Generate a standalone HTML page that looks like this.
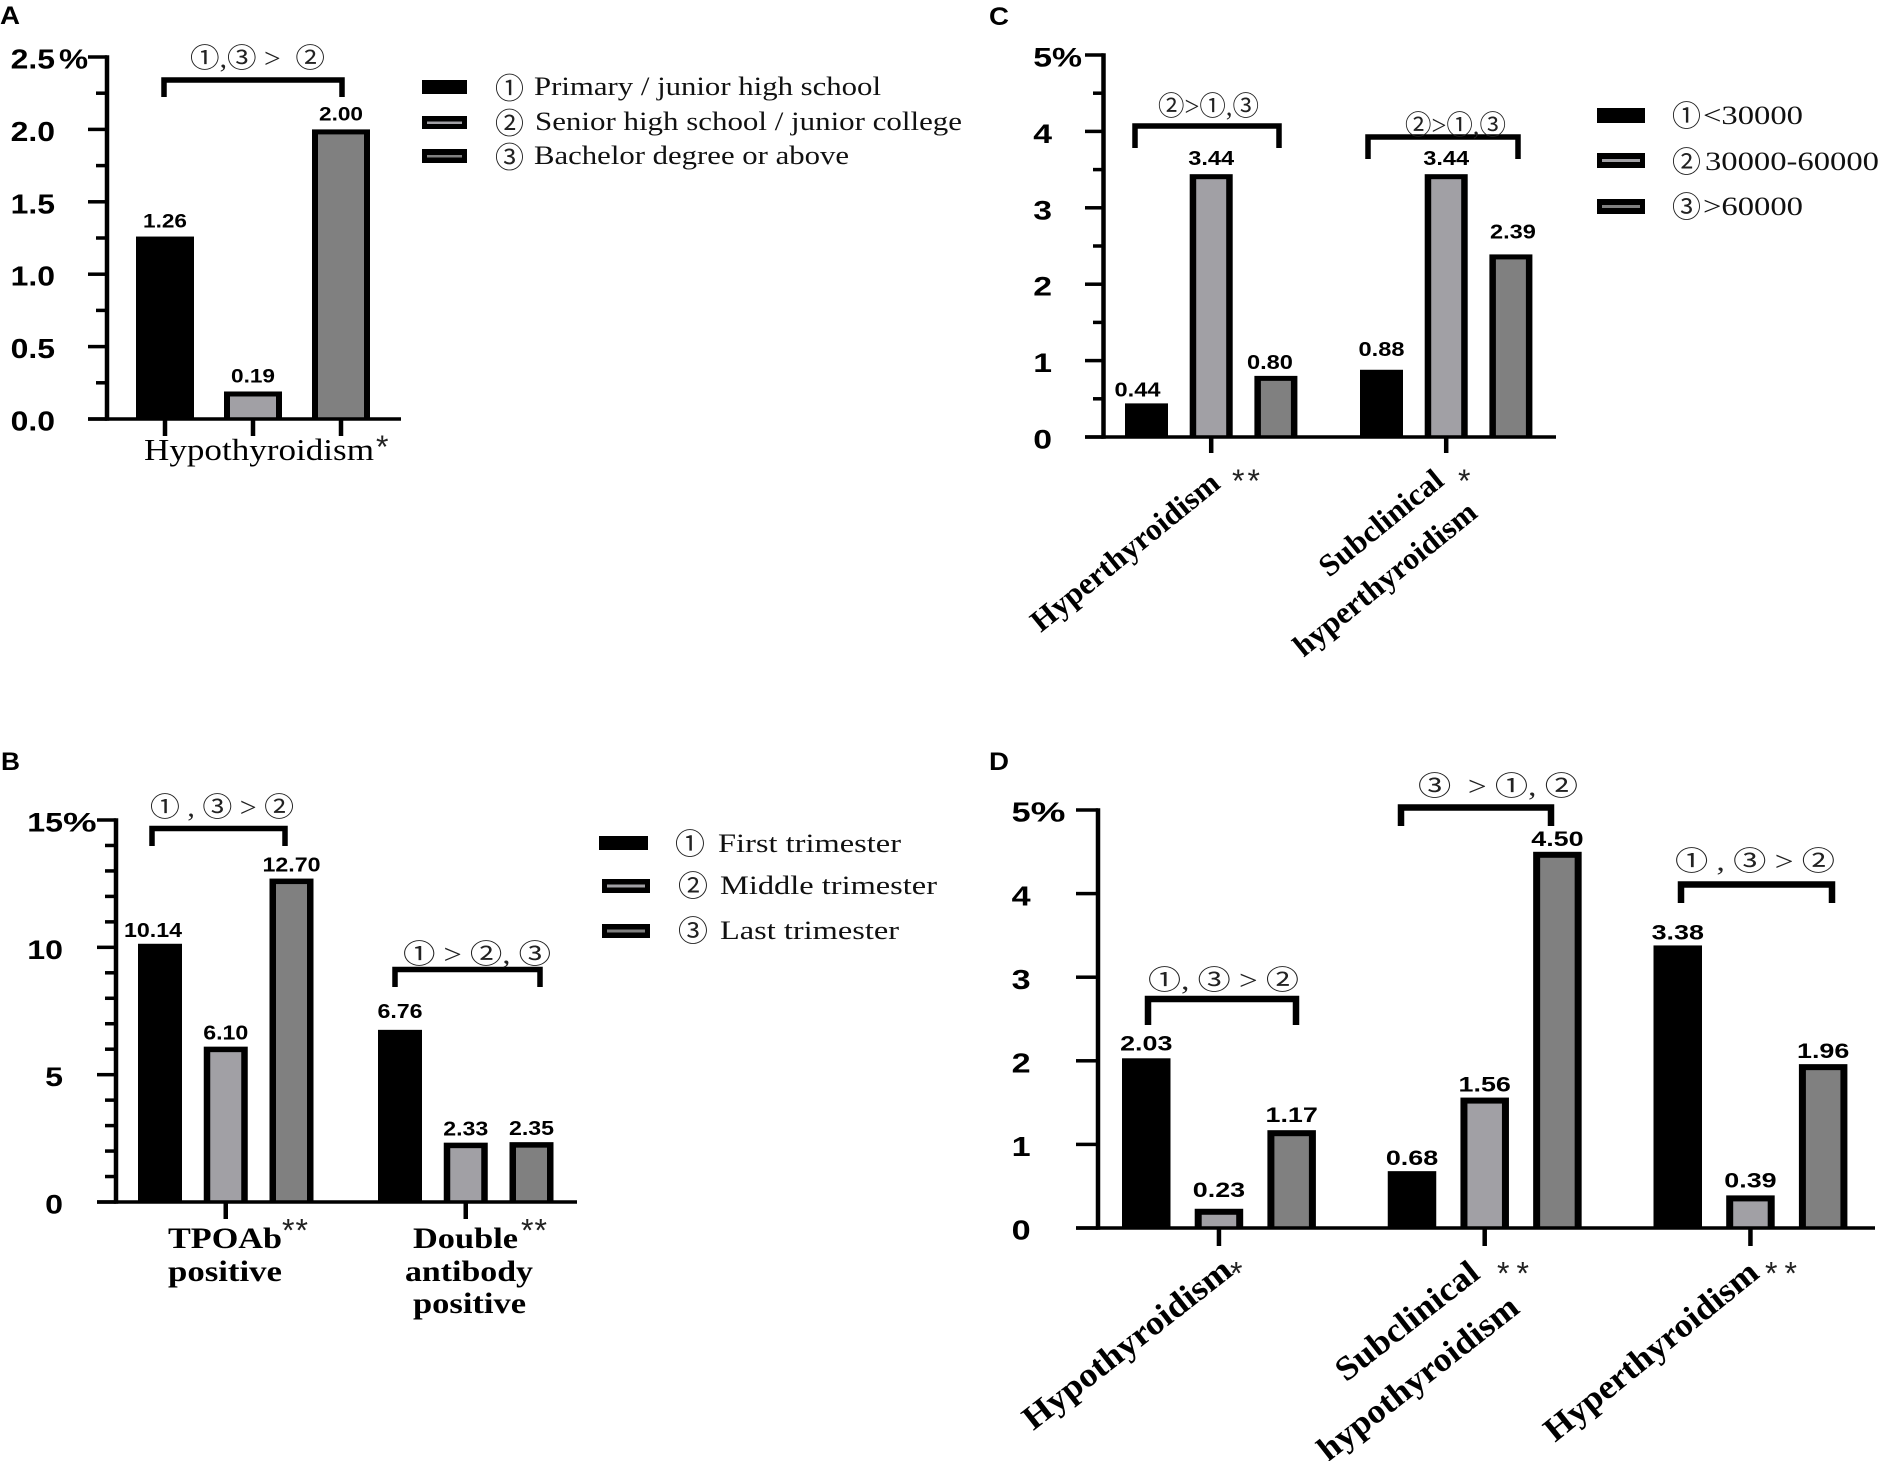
<!DOCTYPE html>
<html lang="en">
<head>
<meta charset="utf-8">
<title>Thyroid disease prevalence by group</title>
<style>
html,body{margin:0;padding:0;background:#fff}
svg{display:block}
text{fill:#000;white-space:pre}
.ser{font-family:"Liberation Serif","Noto Serif CJK SC",serif}
.serb{font-family:"Liberation Serif","Noto Serif CJK SC",serif;font-weight:bold}
.cir{font-family:"Liberation Serif","Noto Sans CJK JP",sans-serif;font-size:27px;fill:#222}
.mrk{font-family:"Liberation Serif","Noto Sans CJK JP",sans-serif;font-size:29px;fill:#222}
.san{font-family:"Liberation Sans",sans-serif;font-weight:bold}
.leg{font-family:"Liberation Serif",serif;font-size:26px;fill:#111}
.ast{font-family:"Liberation Sans",sans-serif;font-size:32px;fill:#222}
.brk{fill:none;stroke:#000;stroke-width:5.5}
.brkd{fill:none;stroke:#000;stroke-width:6.5}
</style>
</head>
<body>
<svg id="figure" xmlns="http://www.w3.org/2000/svg" width="1881" height="1461" viewBox="0 0 1881 1461">
<rect width="1881" height="1461" fill="#fff"/>

<!-- Panel letters -->
<text class="san" x="0" y="24" font-size="25" textLength="20" lengthAdjust="spacingAndGlyphs">A</text>
<text class="san" x="989" y="25" font-size="25" textLength="20" lengthAdjust="spacingAndGlyphs">C</text>
<text class="san" x="1" y="770" font-size="25" textLength="19" lengthAdjust="spacingAndGlyphs">B</text>
<text class="san" x="989" y="770" font-size="25" textLength="20" lengthAdjust="spacingAndGlyphs">D</text>

<!-- Panel A static -->
<g>
<path class="brk" d="M164 97V80H342V97"/>
<text class="cir" x="190" y="67.5" textLength="135" lengthAdjust="spacingAndGlyphs">①,③ &gt;  ②</text>
<text class="ser" x="144" y="460" font-size="31" textLength="230" lengthAdjust="spacingAndGlyphs">Hypothyroidism</text>
<text class="ast" x="376" y="458">*</text>
</g>
<g>
<rect x="422" y="80" width="45" height="14" fill="#000"/>
<rect x="422" y="116" width="45" height="13" fill="#000"/>
<rect x="427" y="121.5" width="35" height="2.5" fill="#a1a0a5"/>
<rect x="422" y="149" width="45" height="14" fill="#000"/>
<rect x="427" y="155" width="35" height="2.5" fill="#808080"/>
<text class="mrk" x="495" y="98.5" textLength="29" lengthAdjust="spacingAndGlyphs">①</text>
<text class="mrk" x="495" y="133.5" textLength="29" lengthAdjust="spacingAndGlyphs">②</text>
<text class="mrk" x="495" y="167.5" textLength="29" lengthAdjust="spacingAndGlyphs">③</text>
<text class="leg" x="534" y="95" textLength="347" lengthAdjust="spacingAndGlyphs">Primary / junior high school</text>
<text class="leg" x="535" y="130" textLength="427" lengthAdjust="spacingAndGlyphs">Senior high school / junior college</text>
<text class="leg" x="534" y="164" textLength="315" lengthAdjust="spacingAndGlyphs">Bachelor degree or above</text>
</g>

<!-- Panel C static -->
<g>
<path class="brk" d="M1135 148V126H1279V148"/>
<path class="brk" d="M1368 159V137H1518V159"/>
<text class="cir" x="1158" y="115.5" textLength="101" lengthAdjust="spacingAndGlyphs">②&gt;①,③</text>
<text class="cir" x="1405" y="134.5" textLength="101" lengthAdjust="spacingAndGlyphs">②&gt;①,③</text>
<text class="serb" transform="translate(1125 552) rotate(-39)" y="10" font-size="31" text-anchor="middle" textLength="233" lengthAdjust="spacingAndGlyphs">Hyperthyroidism</text>
<text class="ast" x="1232" y="492" textLength="28" lengthAdjust="spacing">**</text>
<text class="serb" transform="translate(1381 523) rotate(-39)" y="10" font-size="31" text-anchor="middle" textLength="150" lengthAdjust="spacingAndGlyphs">Subclinical</text>
<text class="ast" x="1458" y="492">*</text>
<text class="serb" transform="translate(1385 579) rotate(-39)" y="10" font-size="31" text-anchor="middle" textLength="226" lengthAdjust="spacingAndGlyphs">hyperthyroidism</text>
</g>
<g>
<rect x="1597" y="108" width="48" height="15" fill="#000"/>
<rect x="1597" y="153" width="48" height="15" fill="#000"/>
<rect x="1602" y="159" width="38" height="3" fill="#a1a0a5"/>
<rect x="1597" y="199" width="48" height="15" fill="#000"/>
<rect x="1602" y="205" width="38" height="3" fill="#808080"/>
<text class="mrk" x="1672" y="126" textLength="29" lengthAdjust="spacingAndGlyphs">①</text>
<text class="mrk" x="1672" y="172" textLength="29" lengthAdjust="spacingAndGlyphs">②</text>
<text class="mrk" x="1672" y="217" textLength="29" lengthAdjust="spacingAndGlyphs">③</text>
<text class="leg" x="1703" y="124" textLength="100" lengthAdjust="spacingAndGlyphs">&lt;30000</text>
<text class="leg" x="1705" y="170" textLength="174" lengthAdjust="spacingAndGlyphs">30000-60000</text>
<text class="leg" x="1703" y="215" textLength="100" lengthAdjust="spacingAndGlyphs">&gt;60000</text>
</g>

<!-- Panel B static -->
<g>
<path class="brk" d="M152 846V828.5H285V846"/>
<path class="brk" d="M395 987V969.5H540V987"/>
<text class="cir" x="150" y="816.5" textLength="144" lengthAdjust="spacingAndGlyphs">① , ③ &gt; ②</text>
<text class="cir" x="403" y="963.5" textLength="148" lengthAdjust="spacingAndGlyphs">① &gt; ②, ③</text>
<text class="serb" x="168" y="1248" font-size="30" textLength="114" lengthAdjust="spacingAndGlyphs">TPOAb</text>
<text class="serb" x="168" y="1281" font-size="30" textLength="114" lengthAdjust="spacingAndGlyphs">positive</text>
<text class="ast" x="282" y="1241.5" textLength="26" lengthAdjust="spacing">**</text>
<text class="serb" x="413" y="1248" font-size="30" textLength="105" lengthAdjust="spacingAndGlyphs">Double</text>
<text class="serb" x="405" y="1281" font-size="30" textLength="128" lengthAdjust="spacingAndGlyphs">antibody</text>
<text class="serb" x="413" y="1313" font-size="30" textLength="113" lengthAdjust="spacingAndGlyphs">positive</text>
<text class="ast" x="521" y="1241.5" textLength="26" lengthAdjust="spacing">**</text>
</g>
<g>
<rect x="599" y="836" width="49" height="14" fill="#000"/>
<rect x="602" y="879" width="48" height="14" fill="#000"/>
<rect x="607" y="884.5" width="38" height="3" fill="#a1a0a5"/>
<rect x="602" y="924" width="48" height="14" fill="#000"/>
<rect x="607" y="929.5" width="38" height="3" fill="#808080"/>
<text class="mrk" x="675" y="854" textLength="30" lengthAdjust="spacingAndGlyphs">①</text>
<text class="mrk" x="678" y="896" textLength="30" lengthAdjust="spacingAndGlyphs">②</text>
<text class="mrk" x="678" y="941" textLength="30" lengthAdjust="spacingAndGlyphs">③</text>
<text class="leg" x="718" y="852" textLength="183" lengthAdjust="spacingAndGlyphs">First trimester</text>
<text class="leg" x="720" y="894" textLength="217" lengthAdjust="spacingAndGlyphs">Middle trimester</text>
<text class="leg" x="720" y="939" textLength="179" lengthAdjust="spacingAndGlyphs">Last trimester</text>
</g>

<!-- Panel D static -->
<g>
<path class="brkd" d="M1148 1025V999H1296V1025"/>
<path class="brkd" d="M1401 826V807.5H1551V826"/>
<path class="brkd" d="M1681 903V884.5H1832V903"/>
<text class="cir" x="1148" y="989.5" textLength="151" lengthAdjust="spacingAndGlyphs">①, ③ &gt; ②</text>
<text class="cir" x="1418" y="795.5" textLength="160" lengthAdjust="spacingAndGlyphs">③  &gt; ①, ②</text>
<text class="cir" x="1675" y="870.5" textLength="160" lengthAdjust="spacingAndGlyphs">① , ③ &gt; ②</text>
<text class="serb" transform="translate(1127 1344) rotate(-38)" y="11" font-size="34" text-anchor="middle" textLength="255" lengthAdjust="spacingAndGlyphs">Hypothyroidism</text>
<text class="ast" x="1230" y="1284.5">*</text>
<text class="serb" transform="translate(1407 1321) rotate(-38)" y="11" font-size="34" text-anchor="middle" textLength="172" lengthAdjust="spacingAndGlyphs">Subclinical</text>
<text class="ast" x="1497" y="1284.5" textLength="32" lengthAdjust="spacing">**</text>
<text class="serb" transform="translate(1418 1378) rotate(-38)" y="11" font-size="34" text-anchor="middle" textLength="245" lengthAdjust="spacingAndGlyphs">hypothyroidism</text>
<text class="serb" transform="translate(1651 1351) rotate(-39)" y="11" font-size="34" text-anchor="middle" textLength="265" lengthAdjust="spacingAndGlyphs">Hyperthyroidism</text>
<text class="ast" x="1765" y="1284.5" textLength="32" lengthAdjust="spacing">**</text>
</g>

<g id="marks"></g>
</svg>

<script>
// Panel A: education
const aCategories = ['hypothyroidism'];
const aPrimary = [1.26];
const aSenior = [0.19];
const aBachelor = [2.00];
const aTickLabels = ['0.0', '0.5', '1.0', '1.5', '2.0', '2.5%'];

// Panel B: trimester
const bCategories = ['tpoab-positive', 'double-antibody-positive'];
const bFirst = [10.14, 6.76];
const bMiddle = [6.10, 2.33];
const bLast = [12.70, 2.35];
const bTickLabels = ['0', '5', '10', '15%'];

// Panel C: income
const cCategories = ['hyperthyroidism', 'subclinical-hyperthyroidism'];
const cLow = [0.44, 0.88];
const cMid = [3.44, 3.44];
const cHigh = [0.80, 2.39];
const cTickLabels = ['0', '1', '2', '3', '4', '5%'];

// Panel D: trimester
const dCategories = ['hypothyroidism', 'subclinical-hypothyroidism', 'hyperthyroidism'];
const dFirst = [2.03, 0.68, 3.38];
const dMiddle = [0.23, 1.56, 0.39];
const dLast = [1.17, 4.50, 1.96];
const dTickLabels = ['0', '1', '2', '3', '4', '5%'];

const NS = 'http://www.w3.org/2000/svg';
const root = document.getElementById('marks');
const FILLS = ['#000000', '#a1a0a5', '#808080'];

function add(parent, tag, name) {
  const el = document.createElementNS(NS, tag);
  
  
  parent.appendChild(el);
  return el;
}
function setAll(el, props) {
  Object.keys(props).forEach(function (k) { el.setAttribute(k, props[k]); });
  return el;
}
function scaledText(parent, name, str, x, y, size, sx, anchor) {
  const t = add(parent, 'text', name);
  t.setAttribute('class', 'san');
  t.setAttribute('font-size', size);
  t.setAttribute('text-anchor', anchor);
  t.setAttribute('transform', 'translate(' + x + ' ' + y + ') scale(' + sx + ' 1)');
  t.textContent = str;
  return t;
}

function drawPanel(p) {
  const g = add(root, 'g', 'panel-' + p.id + '-chart');
  const maxValue = parseFloat(p.ticks[p.ticks.length - 1]);
  const yScale = function (v) { return p.base - (v / maxValue) * (p.base - p.top); };
  const xBar = function (group, series) { return p.left + group * p.groupStep + series * p.barStep; };

  // bars
  p.series.forEach(function (values, s) {
    values.forEach(function (v, c) {
      const x = xBar(c, s);
      const y = yScale(v);
      const h = p.base - y;
      const key = p.categories[c] + '-series-' + (s + 1);
      setAll(add(g, 'rect', 'bar-' + p.id + '-' + key), { x: x, y: y, width: p.barW, height: h, fill: '#000' });
      if (s > 0) {
        setAll(add(g, 'rect', 'bar-fill-' + p.id + '-' + key), { x: x + p.edgeX, y: y + p.edgeY, width: p.barW - 2 * p.edgeX, height: Math.max(h - p.edgeY, 0), fill: FILLS[s] });
      }
      const nudge = p.labelNudges[c + '-' + s] || [0, 0];
      scaledText(g, 'value-label-' + p.id + '-' + key, v.toFixed(2), x + p.barW / 2 + nudge[0], y - p.labelGap + nudge[1], p.labelSize, p.labelSx, 'middle');
    });
  });

  // y axis line
  setAll(add(g, 'rect', 'y-axis-' + p.id), { x: p.axisX - 2.25, y: p.top - 1.75, width: 4.5, height: p.base - p.top + 3.5, fill: '#000' });
  // baseline
  setAll(add(g, 'rect', 'x-axis-' + p.id), { x: p.baseFrom, y: p.base - 1.75, width: p.baseTo - p.baseFrom, height: 3.5, fill: '#000' });

  // y ticks + labels
  p.ticks.forEach(function (lab, i) {
    const v = parseFloat(lab);
    const y = yScale(v);
    setAll(add(g, 'rect', 'y-tick-' + p.id + '-' + i), { x: p.majorFrom, y: y - 1.75, width: p.axisX - p.majorFrom, height: 3.5, fill: '#000' });
    const digits = lab.replace('%', '');
    scaledText(g, 'y-tick-label-' + p.id + '-' + i, digits, p.labelEnd, y + p.tickDy, p.tickSize, p.tickSx, 'end');
    if (lab.indexOf('%') >= 0) {
      scaledText(g, 'y-unit-' + p.id, '%', p.labelEnd + p.unitGap, y + p.tickDy, p.tickSize, p.unitSx, 'start');
    }
    if (i < p.ticks.length - 1 && p.minorPerStep > 0) {
      const next = parseFloat(p.ticks[i + 1]);
      for (let m = 1; m <= p.minorPerStep; m++) {
        const my = yScale(v + (next - v) * m / (p.minorPerStep + 1));
        setAll(add(g, 'rect', 'y-minor-tick-' + p.id + '-' + i + '-' + m), { x: p.minorFrom, y: my - 1.75, width: p.axisX - p.minorFrom, height: 3.5, fill: '#000' });
      }
    }
  });

  // x ticks
  if (p.categories.length === 1) {
    [0, 1, 2].forEach(function (s) {
      setAll(add(g, 'rect', 'x-tick-' + p.id + '-' + s), { x: xBar(0, s) + p.barW / 2 - 2.25, y: p.base, width: 4.5, height: p.tickLen, fill: '#000' });
    });
  } else {
    p.categories.forEach(function (c, i) {
      setAll(add(g, 'rect', 'x-tick-' + c), { x: xBar(i, 1) + p.barW / 2 - 2.25, y: p.base, width: 4.5, height: p.tickLen, fill: '#000' });
    });
  }
}

drawPanel({ id: 'a', categories: aCategories, series: [aPrimary, aSenior, aBachelor], ticks: aTickLabels,
  axisX: 107, top: 57, base: 419, left: 136, barStep: 88, groupStep: 0, barW: 58, edgeX: 6, edgeY: 5,
  baseFrom: 88, baseTo: 401, majorFrom: 88, minorFrom: 96, minorPerStep: 1, tickLen: 17,
  labelEnd: 55, tickDy: 11.5, tickSize: 27.5, tickSx: 1.16, unitGap: 4, unitSx: 1.19,
  labelSize: 19, labelSx: 1.19, labelGap: 9, labelNudges: {} });

drawPanel({ id: 'b', categories: bCategories, series: [bFirst, bMiddle, bLast], ticks: bTickLabels,
  axisX: 116, top: 820, base: 1202, left: 138, barStep: 65.75, groupStep: 240, barW: 44, edgeX: 6.5, edgeY: 5.5,
  baseFrom: 97, baseTo: 577, majorFrom: 97, minorFrom: 105, minorPerStep: 4, tickLen: 17,
  labelEnd: 63, tickDy: 11.5, tickSize: 27, tickSx: 1.19, unitGap: 0, unitSx: 1.4,
  labelSize: 20, labelSx: 1.16, labelGap: 7, labelNudges: { '0-0': [-7, 0], '1-0': [0, -5] } });

drawPanel({ id: 'c', categories: cCategories, series: [cLow, cMid, cHigh], ticks: cTickLabels,
  axisX: 1103.5, top: 55, base: 437, left: 1125, barStep: 64.7, groupStep: 235, barW: 43, edgeX: 6.5, edgeY: 5,
  baseFrom: 1085, baseTo: 1556, majorFrom: 1085, minorFrom: 1093, minorPerStep: 1, tickLen: 16,
  labelEnd: 1052, tickDy: 11.5, tickSize: 27, tickSx: 1.25, unitGap: 0, unitSx: 1.25,
  labelSize: 20, labelSx: 1.18, labelGap: 9, labelNudges: { '0-0': [-9, 2], '0-2': [-6, 2], '1-0': [0, -5], '1-2': [2, -7] } });

drawPanel({ id: 'd', categories: dCategories, series: [dFirst, dMiddle, dLast], ticks: dTickLabels,
  axisX: 1098, top: 810, base: 1228, left: 1122, barStep: 72.7, groupStep: 265.75, barW: 48.5, edgeX: 7, edgeY: 6,
  baseFrom: 1076, baseTo: 1875, majorFrom: 1076, minorFrom: 1076, minorPerStep: 0, tickLen: 18,
  labelEnd: 1030.6, tickDy: 11.7, tickSize: 28, tickSx: 1.22, unitGap: 0, unitSx: 1.4,
  labelSize: 21.5, labelSx: 1.25, labelGap: 6, labelNudges: { '0-0': [0, -2], '0-1': [0, -6], '0-2': [0, -2], '2-1': [0, -2] } });
</script>
</body>
</html>
